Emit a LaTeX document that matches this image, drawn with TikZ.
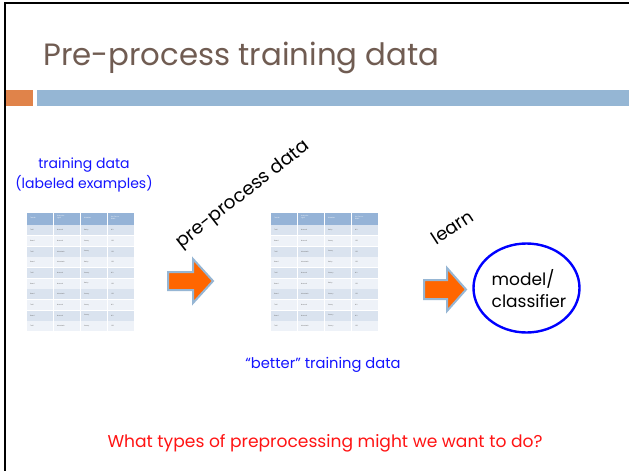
\documentclass[tikz,border=0pt]{standalone}
\usepackage{fontspec}
\setmainfont{Poppins}
\usetikzlibrary{shapes.geometric}
\definecolor{titlebrown}{RGB}{112,92,82}
\definecolor{barorange}{RGB}{224,131,74}
\definecolor{barblue}{RGB}{149,182,212}
\definecolor{hdrblue}{RGB}{149,179,215}
\definecolor{rowa}{RGB}{218,227,239}
\definecolor{rowb}{RGB}{238,242,248}
\definecolor{arroworange}{RGB}{255,102,0}
\definecolor{arrowedge}{RGB}{150,182,212}
\definecolor{textblue}{RGB}{20,20,255}
\definecolor{textred}{RGB}{255,20,20}
\tikzset{
  bluetext/.style={text=textblue,font=\fontsize{14}{20}\selectfont,align=center},
  tinycell/.style={font=\fontsize{1.6}{1.9}\selectfont,anchor=west,inner sep=0pt,text=black!60},
  tinyhdr/.style={font=\fontsize{1.6}{1.9}\selectfont,anchor=west,inner sep=0pt,text=white,align=left},
  blockarrow/.style={fill=arroworange,draw=arrowedge,line width=2pt,line join=miter},
}
\newcommand\drawdatatable[3]{%
  \begin{scope}[shift={(#1,#2)}]
    \foreach \cx/\lab in {0/Terrain,1/{Unicycle-\\type},2/Weather,3/{Go-For-a-\\Ride?}} {
      \fill[hdrblue] (\cx*27,0) rectangle ++(26.2,11.5);
      \node[tinyhdr] (#3h\cx) at (\cx*27+3,4.5) {\lab};
    }
    \foreach \a/\b/\c/\d [count=\r from 0] in {Trail/Normal/Rainy/NO,Road/Normal/Sunny/YES,Trail/Mountain/Sunny/YES,Road/Mountain/Rainy/YES,Trail/Normal/Snowy/NO,Road/Normal/Rainy/YES,Road/Mountain/Snowy/YES,Trail/Normal/Sunny/NO,Road/Normal/Snowy/NO,Trail/Mountain/Snowy/YES} {
      \ifodd\r \def\rc{rowb}\else\def\rc{rowa}\fi
      \foreach \cx in {0,1,2,3} {
        \fill[\rc] (\cx*27,12.4+\r*10.65) rectangle ++(26.2,9.9);
      }
      \node[tinycell] at (3,17.3+\r*10.65) {\a};
      \node[tinycell] at (30,17.3+\r*10.65) {\b};
      \node[tinycell] at (57,17.3+\r*10.65) {\c};
      \node[tinycell] at (84,17.3+\r*10.65) {\d};
    }
  \end{scope}}
\begin{document}
\begin{tikzpicture}[x=1pt,y=-1pt]
  \useasboundingbox (0,0) rectangle (629,471);
  \fill[white] (0,0) rectangle (629,471);
  % frame
  \draw[line width=2.6pt] (5,471) -- (5,2.8) -- (629,2.8);
  % title
  \node[anchor=west,text=titlebrown,font=\fontsize{30.8}{38}\selectfont,inner sep=0pt] (title) at (43,58) {Pre-process training data};
  \fill[barorange] (6,90) rectangle (33,106);
  \fill[barblue] (37,90) rectangle (629,106);
  % labels
  \node[bluetext] (tdlab) at (84,175) {training data\\(labeled examples)};
  \drawdatatable{27}{213}{ta}
  \drawdatatable{271}{213}{tb}
  % arrows
  \draw[blockarrow] (168,272) -- (193,272) -- (193,259) -- (213,281) -- (193,303) -- (193,290) -- (168,290) -- cycle;
  \draw[blockarrow] (424,280) -- (447,280) -- (447,268) -- (466,289.5) -- (447,311) -- (447,299) -- (424,299) -- cycle;
  \node[rotate=38,font=\fontsize{18.5}{20}\selectfont] (pp) at (243,195) {pre-process data};
  \node[rotate=33,font=\fontsize{18}{20}\selectfont] (learn) at (452,227) {learn};
  \node[draw=blue,line width=2.4pt,ellipse,minimum width=106,minimum height=89] (model) at (526.5,288) {};
  \node[align=left,font=\fontsize{17}{22}\selectfont,inner sep=0pt] (mtext) at (529,289) {model/\\classifier};
  \node[bluetext] (better) at (323,365) {\fontsize{14.7}{18}\selectfont``better'' training data};
  \node[text=textred,font=\fontsize{17.1}{20}\selectfont] (q) at (325,443) {What types of preprocessing might we want to do?};
\end{tikzpicture}
\end{document}
